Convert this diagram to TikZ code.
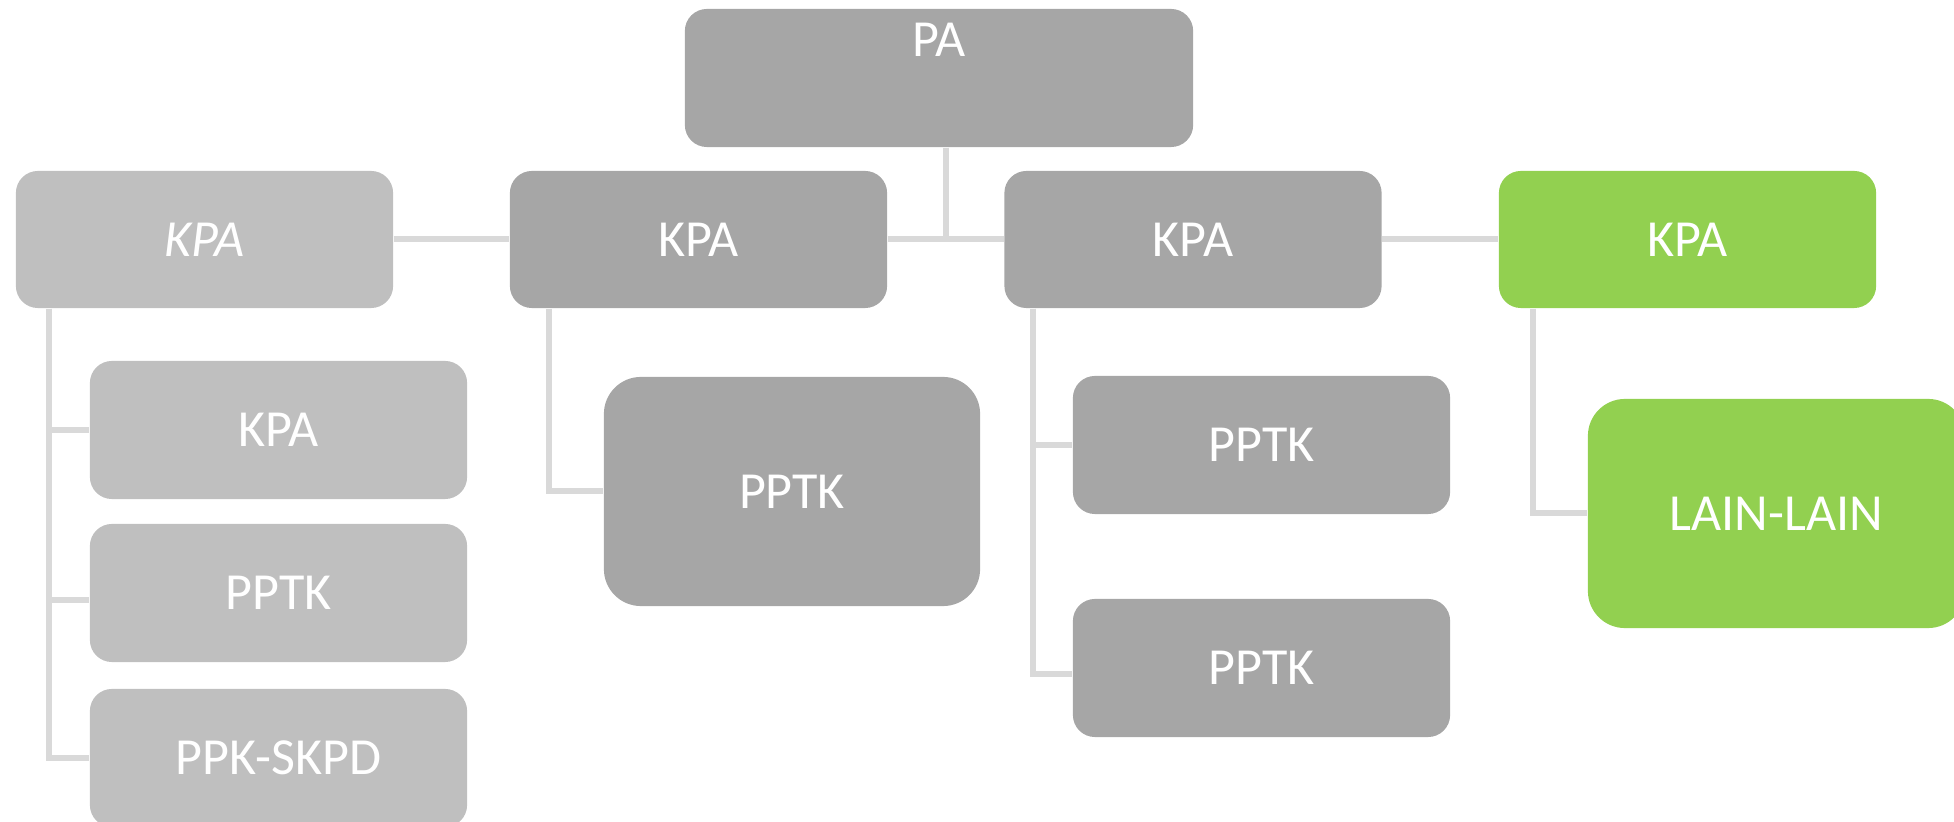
\documentclass[tikz,border=0pt]{standalone}
\usepackage{fontspec}
\setmainfont{Carlito}
\usepackage{tikz}
\usetikzlibrary{shapes,arrows,positioning,calc}
\definecolor{boxgray}{HTML}{A6A6A6}
\definecolor{boxlight}{HTML}{BFBFBF}
\definecolor{boxgreen}{HTML}{92D050}
\definecolor{linkgray}{HTML}{D9D9D9}

\begin{document}
\begin{tikzpicture}[x=0.01cm,y=-0.01cm]
\tikzstyle{block} = [shape=rectangle, fill=boxgray, text=white, rounded corners=0.22cm, minimum width=3.77cm, minimum height=1.37cm, inner sep=0pt, font=\fontsize{14.8}{18}\selectfont]
\tikzstyle{lightblock} = [block, fill=boxlight]
\tikzstyle{greenblock} = [block, fill=boxgreen]
\tikzstyle{bigblock} = [block, minimum height=2.29cm, rounded corners=0.37cm]
\tikzstyle{link} = [draw=linkgray, line width=0.06cm]
\useasboundingbox (0,0) rectangle (1954,822);
\clip (0,0) rectangle (1954,822);
%Creating Blocks
\node at (939,78) [block, minimum width=5.08cm, minimum height=1.38cm, text height=0.33cm, text depth=0.75cm] (pa) {PA};
\node at (204.5,239.5) [lightblock] (kpa1) {\textit{KPA}};
\node at (698.5,239.5) [block] (kpa2) {KPA};
\node at (1193,239.5) [block] (kpa3) {KPA};
\node at (1687.5,239.5) [greenblock] (kpa4) {KPA};
\node at (278.5,430) [lightblock, minimum height=1.38cm] (sub1) {KPA};
\node at (278.5,593) [lightblock, minimum height=1.38cm] (sub2) {PPTK};
\node at (278.5,758) [lightblock, minimum height=1.38cm] (sub3) {PPK-SKPD};
\node at (792,491.5) [bigblock, minimum width=3.76cm] (pptk1) {PPTK};
\node at (1261.5,445) [block, minimum height=1.38cm] (pptk2) {PPTK};
\node at (1261.5,668) [block, minimum height=1.38cm] (pptk3) {PPTK};
\node at (1776.5,513.5) [bigblock, fill=boxgreen] (lain) {LAIN-LAIN};
\coordinate (hub) at ($(kpa2.east)!0.5!(kpa3.west)$);
%Connections
\begin{scope}[link]
\draw (kpa1) -- (kpa2);
\draw (kpa2) -- (kpa3);
\draw (kpa3) -- (kpa4);
\draw (pa.south -| hub) -- (hub);
\draw ([xshift=0.34cm]kpa1.south west) |- (sub1);
\draw ([xshift=0.34cm]kpa1.south west) |- ([yshift=-0.07cm]sub2.west);
\draw ([xshift=0.34cm]kpa1.south west) |- (sub3);
\draw ([xshift=0.40cm]kpa2.south west) |- (pptk1);
\draw ([xshift=0.29cm]kpa3.south west) |- (pptk2);
\draw ([xshift=0.29cm]kpa3.south west) |- ([yshift=-0.06cm]pptk3.west);
\draw ([xshift=0.35cm]kpa4.south west) |- (lain);
\end{scope}
\end{tikzpicture}
\end{document}
